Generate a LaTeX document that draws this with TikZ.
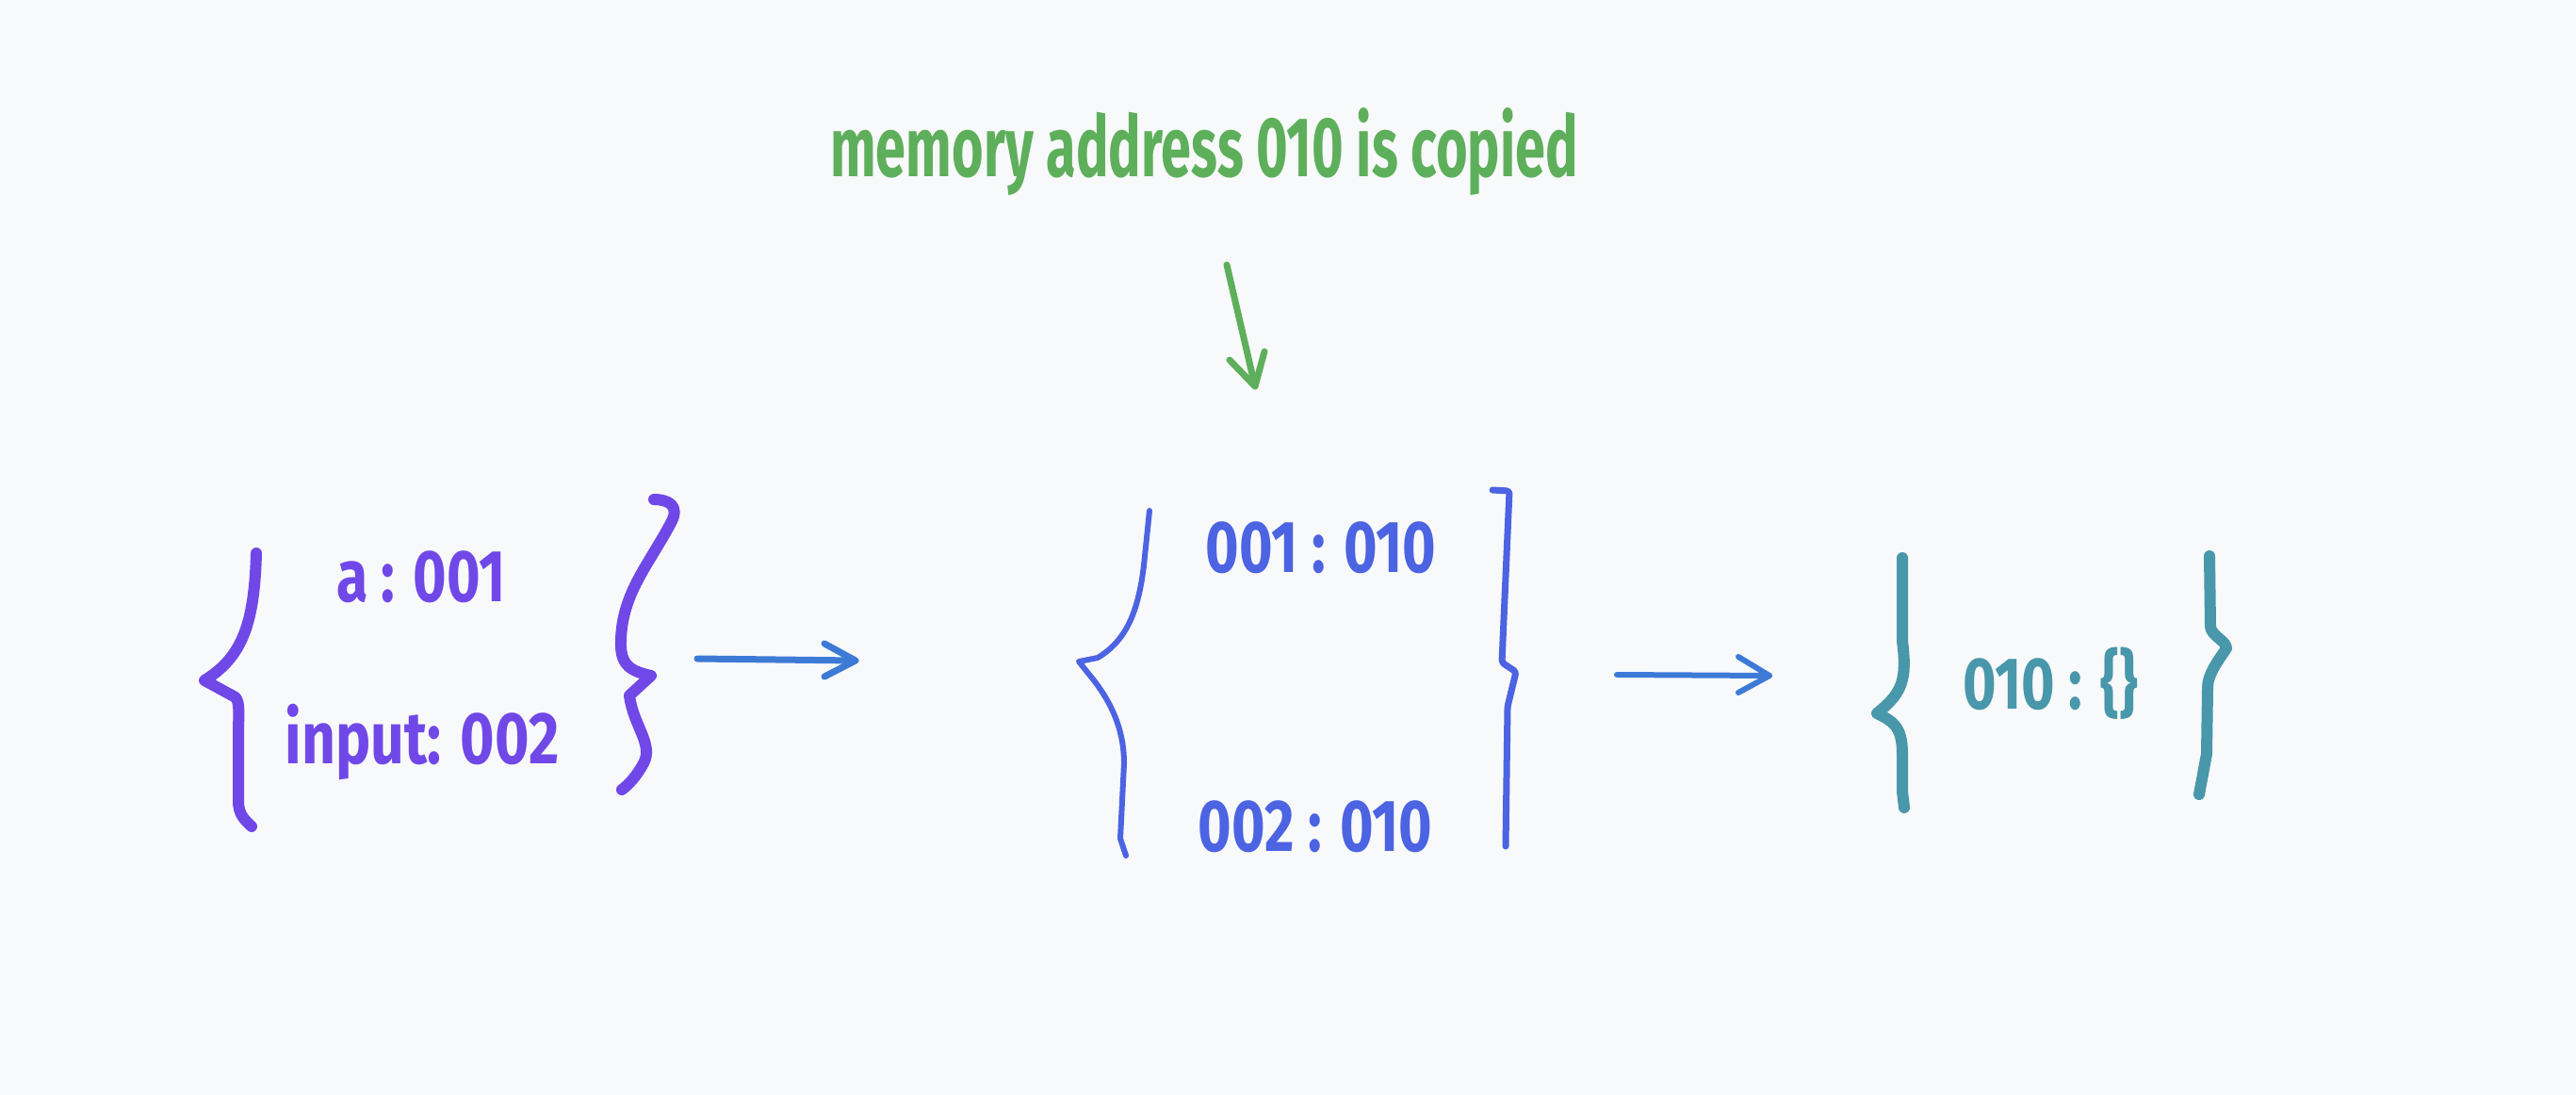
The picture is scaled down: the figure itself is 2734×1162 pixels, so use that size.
\documentclass[tikz,border=0pt]{standalone}
\usepackage{fontspec}
\setmainfont{Fira Sans}
\usepackage{graphicx}
\definecolor{bg}{HTML}{F8F9FA}
\definecolor{grn}{HTML}{5EAF5B}
\definecolor{vio}{HTML}{7048E8}
\definecolor{ind}{HTML}{4C63E2}
\definecolor{arr}{HTML}{3D7AD6}
\definecolor{teal}{HTML}{4897AA}
\newcommand{\hw}[2]{\scalebox{#1}[1]{#2}}
\tikzset{
  stroke/.style={line cap=round, line join=round},
  lbl/.style={inner sep=0pt, anchor=base, font=\fontsize{78}{80}\selectfont\bfseries},
}
\begin{document}
\begin{tikzpicture}[x=1pt,y=-1pt]
\fill[bg] (0,0) rectangle (2734,1162);
\useasboundingbox (0,0) rectangle (2734,1162);

% title
\node[lbl, text=grn, font=\fontsize{90}{92}\selectfont\bfseries] (title) at (1278,187) {\hw{0.64}{memory address 010 is copied}};
\coordinate (gs) at (1302,281);
\coordinate (gt) at (1332,410);
\draw[stroke, grn, line width=7] (gs) -- (gt);
\draw[stroke, grn, line width=7] (1305,382) -- (gt) -- (1342,373);

% left block (violet)
\draw[stroke, vio, line width=12] (272,587) .. controls (270,660) and (258,697) .. (217,722)
  -- (250,740) .. controls (255,746) and (253,760) .. (253,780) -- (253,850)
  .. controls (253,865) and (260,870) .. (267,877);
\draw[stroke, vio, line width=12] (694,530) .. controls (710,530) and (722,537) .. (712,555)
  .. controls (688,600) and (660,630) .. (659,680) .. controls (658,705) and (668,712) .. (691,717)
  -- (668,738) .. controls (672,770) and (694,790) .. (683,810)
  .. controls (676,823) and (668,832) .. (660,838);
\node[lbl, text=vio] (a) at (447,638) {\hw{0.78}{a : 001}};
\node[lbl, text=vio] (inp) at (448,810) {\hw{0.8}{input: 002}};

% arrow 1
\coordinate (a1s) at (740,699);
\coordinate (a1t) at (908,701);
\draw[stroke, arr, line width=7] (a1s) -- (a1t);
\draw[stroke, arr, line width=7] (875,683) -- (a1t) -- (875,718);

% middle block (indigo)
\draw[stroke, ind, line width=6] (1220,542) -- (1214,600) .. controls (1208,650) and (1195,680) .. (1165,698)
  -- (1145,702) -- (1157,717) .. controls (1180,745) and (1193,775) .. (1193,810)
  -- (1189,890) -- (1195,908);
\draw[stroke, ind, line width=7, rounded corners=3] (1584,520) -- (1602,521) -- (1594,703) -- (1609,713)
  -- (1600,750) -- (1598,898);
\node[lbl, text=ind] (m1) at (1402,607) {\hw{0.78}{001 : 010}};
\node[lbl, text=ind] (m2) at (1396,903) {\hw{0.78}{002 : 010}};

% arrow 2
\coordinate (a2s) at (1716,716);
\coordinate (a2t) at (1878,717);
\draw[stroke, arr, line width=6] (a2s) -- (a2t);
\draw[stroke, arr, line width=6] (1845,697) -- (a2t) -- (1845,735);

% right block (teal)
\draw[stroke, teal, line width=12] (2019,592) -- (2019,680) .. controls (2024,720) and (2020,735) .. (1992,757)
  .. controls (2008,765) and (2019,770) .. (2019,800) -- (2019,840) -- (2021,857);
\draw[stroke, teal, line width=12] (2345,590) -- (2346,665) .. controls (2347,675) and (2363,680) .. (2363,688)
  .. controls (2355,700) and (2343,715) .. (2343,730) -- (2342,800) -- (2334,843);
\node[lbl, text=teal] (r) at (2176,752) {\hw{0.78}{010 : \{\}}};
\end{tikzpicture}
\end{document}
